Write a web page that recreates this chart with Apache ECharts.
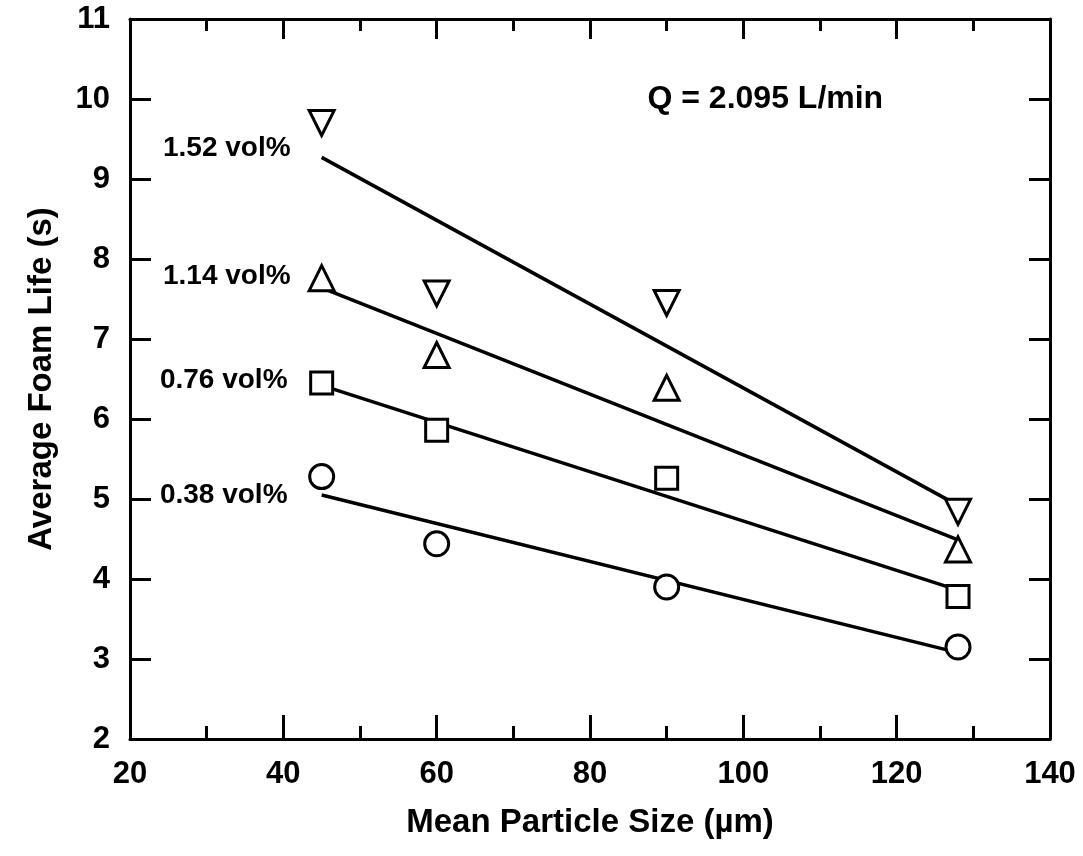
<!DOCTYPE html>
<html>
<head>
<meta charset="utf-8">
<script src="https://cdn.jsdelivr.net/npm/echarts@6/dist/echarts.min.js"></script>
<style>
html,body{margin:0;padding:0;background:#fff;}
#chart{width:1083px;height:856px;}
</style>
</head>
<body>
<div id="chart"></div>
<script>
// Mean particle size (µm)
const particleSize = [45, 60, 90, 128];
// Average foam life (s) per concentration
const foam152 = [9.70, 7.57, 7.45, 4.84];
const foam114 = [7.76, 6.80, 6.39, 4.37];
const foam076 = [6.45, 5.86, 5.26, 3.78];
const foam038 = [5.28, 4.44, 3.90, 3.15];
// Fitted trend lines (endpoints at first and last size)
const fitX = [45, 128];
const fit152 = [9.27, 4.92];
const fit114 = [7.64, 4.49];
const fit076 = [6.42, 3.86];
const fit038 = [5.05, 3.08];
// Series labels and annotation
const seriesNames = ['1.52 vol%', '1.14 vol%', '0.76 vol%', '0.38 vol%'];
const labelAnchorX = [24.3, 24.3, 23.9, 23.9];
const labelAnchorY = [9.39, 7.78, 6.49, 5.05];
const noteText = 'Q = 2.095 L/min';
const noteAnchor = [87.5, 10.0];
const xTicks = [20, 40, 60, 80, 100, 120, 140];
const yTicks = [2, 3, 4, 5, 6, 7, 8, 9, 10, 11];

const FONT = '"Liberation Sans", Arial, sans-serif';
const chart = echarts.init(document.getElementById('chart'), null, {renderer: 'canvas'});

const pair = (xs, ys) => xs.map((x, i) => [x, ys[i]]);
const axisLine = {show: true, lineStyle: {color: '#000', width: 3}};
const tickStyle = {lineStyle: {color: '#000', width: 3}};

const markerStyle = {color: '#fff', borderColor: '#000', borderWidth: 3, opacity: 1};
function scatter(name, ys, symbol, size, rotate) {
  return {
    name, type: 'scatter', data: pair(particleSize, ys), symbol, symbolSize: size,
    symbolRotate: rotate || 0, itemStyle: markerStyle, z: 5, silent: true
  };
}
function fit(ys) {
  return {
    type: 'line', data: pair(fitX, ys), symbol: 'none',
    lineStyle: {color: '#000', width: 3.5}, z: 3, silent: true
  };
}

const labelData = seriesNames.map((n, i) => ({name: n, value: [labelAnchorX[i], labelAnchorY[i]]}));
labelData.push({name: noteText, value: noteAnchor, label: {fontSize: 32}});

const option = {
  backgroundColor: '#fff',
  animation: false,
  grid: {left: 130, right: 33, top: 19, bottom: 117, containLabel: false},
  xAxis: [{
    type: 'value', min: xTicks[0], max: xTicks[xTicks.length - 1], interval: 20,
    name: 'Mean Particle Size (µm)', nameLocation: 'middle', nameGap: 67,
    nameTextStyle: {fontFamily: FONT, fontWeight: 'bold', fontSize: 33, color: '#000'},
    axisLine, axisTick: Object.assign({inside: true, length: 24}, tickStyle),
    minorTick: {show: true, splitNumber: 2, length: 13, lineStyle: {color: '#000', width: 3}},
    axisLabel: {fontFamily: FONT, fontWeight: 'bold', fontSize: 31, color: '#000', margin: 20},
    splitLine: {show: false}
  }, {
    type: 'value', position: 'top', min: xTicks[0], max: xTicks[xTicks.length - 1], interval: 20,
    axisLine, axisTick: Object.assign({inside: true, length: 20}, tickStyle),
    minorTick: {show: true, splitNumber: 2, length: 12, lineStyle: {color: '#000', width: 3}},
    axisLabel: {show: false}, splitLine: {show: false}
  }],
  yAxis: [{
    type: 'value', min: yTicks[0], max: yTicks[yTicks.length - 1], interval: 1,
    name: 'Average Foam Life (s)', nameLocation: 'middle', nameGap: 72,
    nameTextStyle: {fontFamily: FONT, fontWeight: 'bold', fontSize: 33, color: '#000'},
    axisLine, axisTick: Object.assign({inside: true, length: 21}, tickStyle),
    axisLabel: {fontFamily: FONT, fontWeight: 'bold', fontSize: 31, color: '#000', margin: 20},
    splitLine: {show: false}
  }, {
    type: 'value', position: 'right', min: yTicks[0], max: yTicks[yTicks.length - 1], interval: 1,
    axisLine, axisTick: Object.assign({inside: true, length: 21}, tickStyle),
    axisLabel: {show: false}, splitLine: {show: false}
  }],
  series: [
    fit(fit152), fit(fit114), fit(fit076), fit(fit038),
    scatter(seriesNames[0], foam152, 'triangle', 25, 180),
    scatter(seriesNames[1], foam114, 'triangle', 25, 0),
    scatter(seriesNames[2], foam076, 'rect', 22, 0),
    scatter(seriesNames[3], foam038, 'circle', 24, 0),
    {
      type: 'scatter', data: labelData, symbolSize: 0, silent: true, z: 6,
      itemStyle: {opacity: 1},
      label: {
        show: true, position: 'right', distance: 0, formatter: p => p.name,
        fontFamily: FONT, fontWeight: 'bold', fontSize: 28, color: '#000'
      }
    }
  ]
};
chart.setOption(option);
</script>
</body>
</html>
